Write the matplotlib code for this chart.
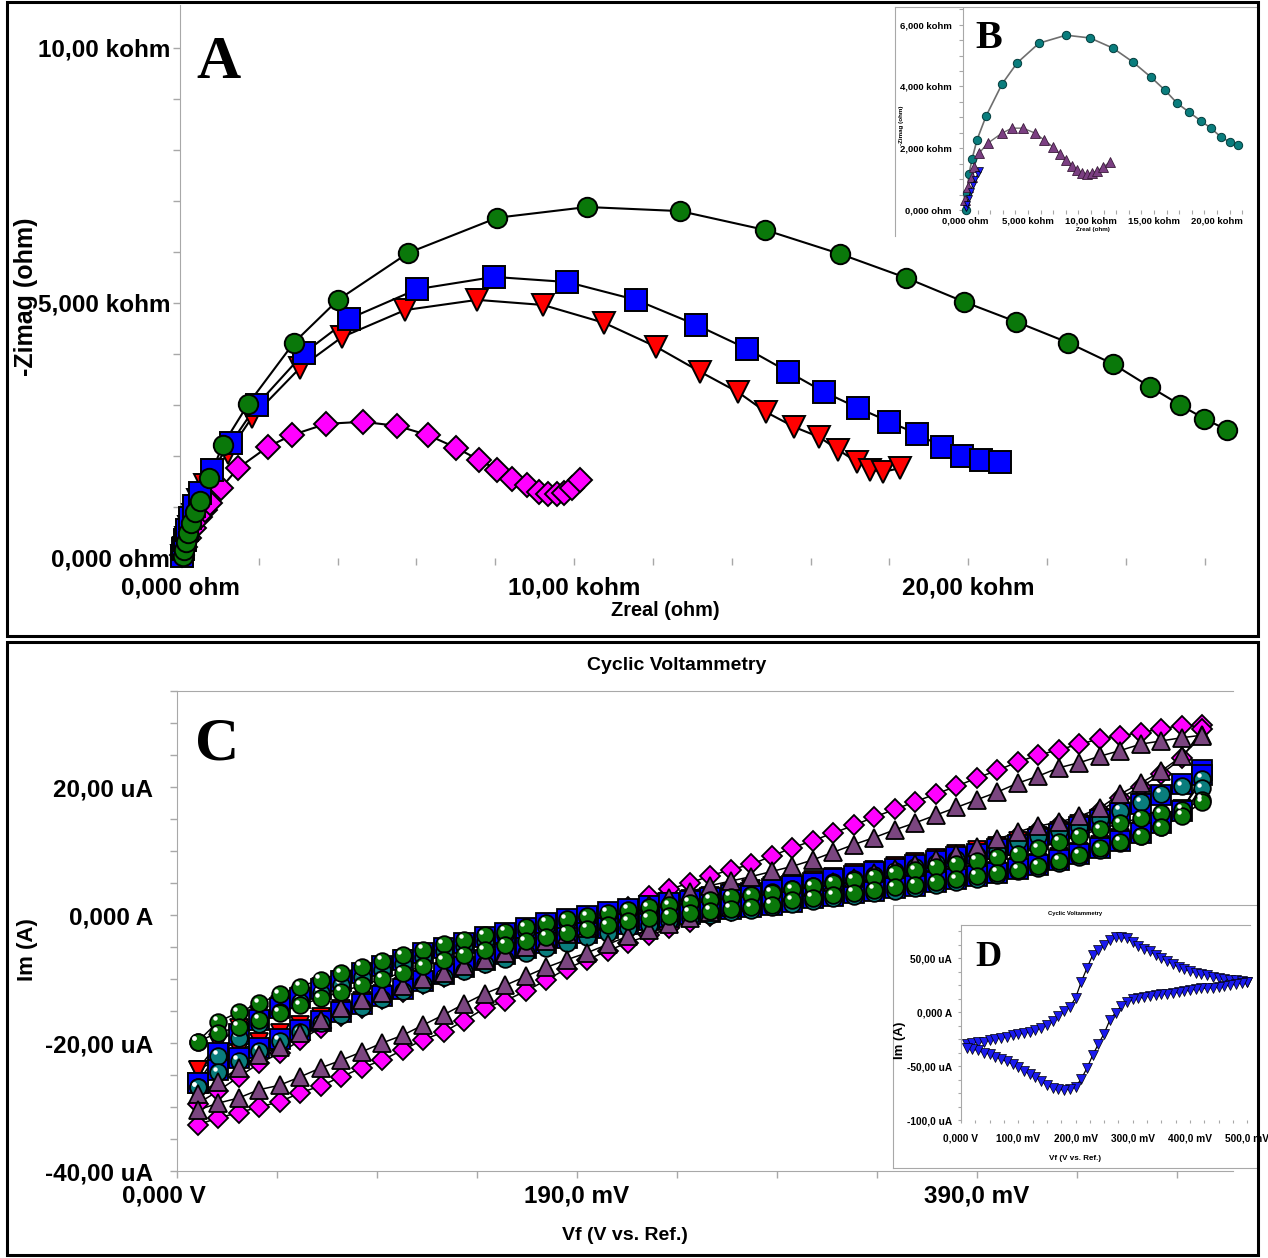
import numpy as np
import matplotlib
matplotlib.use("Agg")
import matplotlib.pyplot as plt
from matplotlib.ticker import MultipleLocator
from matplotlib.patches import Rectangle
from matplotlib.transforms import offset_copy, ScaledTranslation

SANS = ['Liberation Sans', 'DejaVu Sans']
SERIF = ['Liberation Serif', 'DejaVu Serif']
GRAY = '#a8a8a8'

# ---------------- panel A : Nyquist (kohm) ----------------
a_green_x = [0.08, 0.10, 0.15, 0.20, 0.28, 0.38, 0.51, 0.74, 1.09, 1.73, 2.89, 4.01, 5.79, 8.05,
             10.33, 12.69, 14.85, 16.75, 18.43, 19.90, 21.22, 22.54, 23.68, 24.62, 25.38, 25.99, 26.57]
a_green_y = [0.04, 0.16, 0.31, 0.49, 0.69, 0.90, 1.12, 1.57, 2.22, 3.02, 4.22, 5.06, 5.98, 6.67,
             6.88, 6.80, 6.43, 5.96, 5.49, 5.02, 4.63, 4.22, 3.80, 3.35, 3.00, 2.73, 2.51]
a_blue_x = [0.05, 0.08, 0.13, 0.18, 0.25, 0.36, 0.51, 0.81, 1.29, 1.95, 3.15, 4.29, 6.02, 7.97,
            9.82, 11.57, 13.10, 14.39, 15.43, 16.35, 17.21, 18.00, 18.71, 19.34, 19.85, 20.33, 20.81]
a_blue_y = [0.04, 0.18, 0.35, 0.55, 0.78, 1.02, 1.27, 1.73, 2.25, 3.00, 4.02, 4.69, 5.27, 5.51,
            5.41, 5.06, 4.57, 4.10, 3.65, 3.25, 2.94, 2.67, 2.43, 2.18, 2.00, 1.92, 1.88]
a_red_x = [0.05, 0.10, 0.15, 0.23, 0.33, 0.46, 0.63, 1.22, 1.83, 3.05, 4.11, 5.71, 7.54, 9.21,
           10.76, 12.08, 13.20, 14.16, 14.87, 15.58, 16.22, 16.70, 17.18, 17.51, 17.84, 18.27]
a_red_y = [0.04, 0.20, 0.39, 0.61, 0.84, 1.14, 1.43, 2.06, 2.76, 3.73, 4.33, 4.86, 5.06, 4.96,
           4.61, 4.14, 3.65, 3.25, 2.86, 2.57, 2.37, 2.12, 1.88, 1.73, 1.69, 1.76]
a_mag_x = [0.05, 0.13, 0.23, 0.36, 0.51, 0.63, 0.76, 1.04, 1.47, 2.23, 2.84, 3.71, 4.64, 5.51,
           6.29, 7.01, 7.59, 8.05, 8.43, 8.81, 9.11, 9.34, 9.57, 9.75, 9.95, 10.15]
a_mag_y = [0.06, 0.22, 0.39, 0.59, 0.80, 0.94, 1.08, 1.37, 1.76, 2.18, 2.41, 2.63, 2.67, 2.59,
           2.41, 2.16, 1.92, 1.73, 1.55, 1.43, 1.29, 1.25, 1.25, 1.27, 1.37, 1.53]

# ---------------- inset B ----------------
b_teal_x = [0.08, 0.16, 0.32, 0.56, 0.95, 1.67, 2.94, 4.13, 5.87, 8.02, 9.92, 11.75, 13.33, 14.76,
            15.87, 16.83, 17.78, 18.73, 19.52, 20.32, 21.03, 21.67]
b_teal_y = [0.0, 0.55, 1.17, 1.65, 2.27, 3.04, 4.08, 4.76, 5.40, 5.66, 5.57, 5.24, 4.79, 4.30,
            3.88, 3.46, 3.17, 2.88, 2.65, 2.36, 2.20, 2.10]
b_purp_x = [0.00, 0.24, 0.56, 0.71, 1.11, 1.83, 2.94, 3.73, 4.60, 5.56, 6.27, 6.98, 7.54, 8.02,
            8.49, 8.89, 9.29, 9.68, 10.08, 10.48, 10.95, 11.51]
b_purp_y = [0.32, 0.74, 1.07, 1.39, 1.84, 2.17, 2.49, 2.65, 2.65, 2.49, 2.27, 2.04, 1.81, 1.62,
            1.42, 1.29, 1.20, 1.17, 1.20, 1.26, 1.39, 1.55]
b_blue_x = [0.05, 0.15, 0.30, 0.45, 0.60, 0.80, 1.00, 1.20]
b_blue_y = [0.05, 0.20, 0.40, 0.60, 0.80, 1.00, 1.15, 1.30]

# ---------------- panel C : CV (mV, uA) ----------------
cv_e = [10, 20, 30, 40, 50, 60, 70, 80, 90, 100, 110, 120, 130, 140, 150, 160, 170, 180, 190, 200,
        210, 220, 230, 240, 250, 260, 270, 280, 290, 300, 310, 320, 330, 340, 350, 360, 370, 380, 390, 400,
        410, 420, 430, 440, 450, 460, 470, 480, 490, 500]

green_up = [-19.8, -16.7, -15.2, -13.8, -12.4, -11.2, -10.1, -9.1, -8.1, -7.2,
            -6.3, -5.4, -4.6, -3.9, -3.2, -2.6, -1.9, -1.2, -0.7, -0.2,
            0.3, 0.8, 1.2, 1.5, 1.9, 2.4, 2.8, 3.1, 3.5, 4.0,
            4.5, 5.0, 5.5, 6.0, 6.5, 7.0, 7.5, 8.0, 8.5, 9.0,
            9.6, 10.4, 11.4, 12.4, 13.4, 14.3, 15.2, 15.9, 16.4, 18.0]
green_lo = [-19.8, -18.4, -17.5, -16.4, -15.3, -14.1, -13.0, -12.0, -11.0, -10.0,
            -9.0, -8.0, -7.1, -6.2, -5.5, -4.7, -4.1, -3.4, -2.8, -2.2,
            -1.6, -1.0, -0.5, -0.1, 0.3, 0.7, 1.0, 1.2, 1.6, 2.3,
            2.7, 3.1, 3.5, 3.9, 4.3, 4.7, 5.1, 5.6, 6.1, 6.6,
            7.1, 7.7, 8.5, 9.4, 10.4, 11.4, 12.4, 13.7, 15.5, 17.6]
teal_up = [-26.9, -22.0, -19.2, -17.0, -15.2, -13.6, -12.2, -10.9, -9.7, -8.6,
           -7.6, -6.6, -5.7, -4.8, -4.0, -3.2, -2.5, -1.8, -1.1, -0.5,
           0.0, 0.5, 1.0, 1.4, 1.8, 2.3, 2.7, 3.1, 3.6, 4.1,
           4.6, 5.1, 5.7, 6.3, 6.9, 7.5, 8.1, 8.7, 9.3, 10.0,
           11.6, 12.4, 13.1, 13.8, 15.0, 16.3, 17.6, 18.9, 20.1, 21.3]
teal_lo = [-26.9, -24.6, -22.8, -21.2, -19.7, -18.3, -16.9, -15.6, -14.3, -13.1,
           -11.9, -10.8, -9.7, -8.7, -7.7, -6.8, -5.9, -5.1, -4.3, -3.5,
           -2.8, -2.1, -1.5, -0.9, -0.4, 0.0, 0.4, 0.8, 1.2, 1.7,
           2.2, 2.6, 3.0, 3.4, 3.8, 4.2, 4.7, 5.2, 5.7, 6.2,
           6.8, 7.4, 8.2, 9.1, 10.1, 11.2, 12.4, 13.8, 15.8, 19.8]
blue_up = [-26.3, -21.5, -18.6, -16.4, -14.6, -13.0, -11.6, -10.3, -9.1, -8.0,
           -7.0, -6.0, -5.1, -4.3, -3.5, -2.8, -2.0, -1.3, -0.7, -0.1,
           0.4, 0.9, 1.4, 1.8, 2.2, 2.7, 3.1, 3.5, 4.0, 4.5,
           5.0, 5.6, 6.1, 6.7, 7.2, 7.8, 8.4, 9.0, 9.6, 10.3,
           11.0, 11.8, 12.7, 13.7, 14.8, 16.0, 17.3, 18.7, 20.4, 22.6]
blue_lo = [-26.3, -24.2, -22.4, -20.8, -19.3, -17.9, -16.5, -15.2, -13.9, -12.7,
           -11.5, -10.3, -9.2, -8.1, -7.1, -6.1, -5.2, -4.4, -3.6, -2.8,
           -2.1, -1.4, -0.8, -0.3, 0.1, 0.5, 0.9, 1.2, 1.6, 2.1,
           2.6, 3.0, 3.4, 3.8, 4.2, 4.6, 5.1, 5.6, 6.1, 6.6,
           7.2, 7.8, 8.6, 9.5, 10.5, 11.6, 12.8, 14.3, 16.3, 21.8]
red_up = [-24.2, -20.0, -17.6, -15.7, -14.1, -12.6, -11.3, -10.1, -9.0, -7.9,
          -6.9, -6.0, -5.1, -4.3, -3.5, -2.8, -2.0, -1.3, -0.7, -0.1,
          0.5, 1.0, 1.5, 2.0, 2.5, 3.0, 3.5, 4.0, 4.5, 5.0,
          5.5, 6.0, 6.5, 7.1, 7.7, 8.3, 8.9, 9.5, 10.1, 10.8,
          11.5, 12.3, 13.2, 14.2, 15.2, 16.3, 17.5, 18.8, 20.3, 22.0]
red_lo = [-24.2, -22.6, -21.2, -19.8, -18.5, -17.2, -15.9, -14.7, -13.5, -12.3,
          -11.2, -10.1, -9.1, -8.1, -7.1, -6.2, -5.3, -4.5, -3.7, -2.9,
          -2.2, -1.5, -0.9, -0.4, 0.1, 0.5, 0.9, 1.3, 1.7, 2.2,
          2.7, 3.1, 3.5, 3.9, 4.3, 4.8, 5.3, 5.8, 6.3, 6.9,
          7.5, 8.2, 9.0, 9.9, 10.9, 12.0, 13.2, 14.6, 16.5, 21.0]
purple_up = [-28.0, -26.1, -23.9, -21.9, -20.6, -18.4, -16.4, -14.5, -13.3, -12.2,
             -11.1, -10.0, -9.0, -8.0, -7.0, -6.0, -5.0, -4.0, -3.0, -2.0,
             -0.9, 0.3, 1.5, 2.6, 3.6, 4.6, 5.3, 6.0, 6.8, 7.6,
             8.6, 9.8, 11.0, 12.1, 13.3, 14.4, 15.6, 16.8, 18.0, 19.2,
             20.6, 21.7, 23.0, 23.8, 24.8, 25.7, 26.7, 27.2, 27.7, 28.1]
purple_lo = [-30.5, -29.4, -28.6, -27.3, -26.6, -25.3, -23.9, -22.7, -21.4, -20.0,
             -18.8, -17.2, -15.6, -13.9, -12.3, -11.0, -9.6, -8.2, -7.0, -5.9,
             -4.6, -3.3, -2.4, -1.4, -0.4, 0.4, 1.2, 2.0, 2.8, 3.6,
             4.4, 5.1, 5.8, 6.5, 7.2, 7.9, 8.7, 9.6, 10.6, 11.8,
             13.0, 13.9, 14.5, 15.4, 16.7, 18.9, 20.6, 22.5, 24.8, 28.0]
magenta_up = [-29.5, -27.5, -25.3, -23.2, -21.6, -19.6, -17.6, -15.8, -14.5, -13.2,
              -12.0, -10.8, -9.7, -8.6, -7.5, -6.4, -5.3, -4.2, -3.0, -1.8,
              -0.4, 1.2, 2.9, 4.0, 5.0, 6.1, 7.1, 7.9, 9.2, 10.5,
              11.6, 12.8, 14.0, 15.3, 16.5, 17.7, 18.9, 20.1, 21.4, 22.6,
              23.9, 25.0, 25.8, 26.7, 27.5, 28.0, 28.5, 29.1, 29.6, 29.7]
magenta_lo = [-32.8, -31.7, -30.9, -30.0, -29.2, -27.8, -26.7, -25.3, -23.9, -22.7,
              -21.1, -19.5, -18.3, -16.5, -14.6, -13.4, -11.9, -10.2, -8.4, -7.0,
              -5.6, -4.3, -3.2, -2.1, -1.1, -0.2, 0.6, 1.4, 2.2, 3.0,
              3.8, 4.5, 5.2, 5.9, 6.6, 7.3, 8.1, 9.0, 10.0, 11.2,
              12.4, 13.3, 14.0, 14.9, 16.2, 18.3, 20.0, 22.0, 24.5, 29.0]

# ---------------- inset D : CV (mV, uA) ----------------
d_fwd = [-29.6, -28.7, -27.8, -27.3, -25.9, -25.0, -23.6, -22.7, -21.3, -20.4,
         -19.4, -18.5, -16.7, -14.8, -12.0, -8.3, -3.7, 0.9, 4.6, 13.0,
         27.8, 40.7, 52.8, 57.4, 62.0, 66.7, 69.4, 69.4, 68.1, 64.8,
         61.1, 58.8, 56.5, 52.8, 50.0, 47.2, 44.4, 41.7, 39.8, 38.0,
         36.6, 35.2, 34.3, 32.4, 31.5, 30.6, 29.6, 29.2, 28.7, 27.8]
d_rev = [-32.9, -34.3, -35.6, -37.5, -38.9, -41.2, -43.5, -45.8, -48.1, -50.9,
         -54.2, -57.4, -60.2, -63.9, -67.6, -69.9, -71.3, -72.2, -71.3, -69.4,
         -62.0, -52.0, -40.0, -29.6, -19.9, -7.4, -0.5, 5.6, 9.3, 12.0,
         13.0, 13.9, 15.3, 15.7, 16.7, 17.1, 17.6, 18.5, 19.4, 20.4,
         21.3, 21.8, 22.2, 22.7, 23.6, 24.1, 25.0, 25.9, 26.9, 27.8]

W, H = 1268, 1258
fig = plt.figure(figsize=(W / 100, H / 100), dpi=100)


def box(x0, y0, x1, y1):
    return [x0 / W, 1 - y1 / H, (x1 - x0) / W, (y1 - y0) / H]


def ftext(x, y, s, **kw):
    fig.text(x / W, 1 - y / H, s, ha='center', va='center', zorder=10, **kw)


def gray_axes(ax, sides):
    for k, sp in ax.spines.items():
        sp.set_visible(k in sides)
        sp.set_color(GRAY)
    ax.tick_params(which='both', colors=GRAY, labelcolor='black', direction='out')


# ================= panel A =================
axA = fig.add_axes(box(180, 5, 1252, 558), zorder=1)
axA.set_xlim(0, 27.2)
axA.set_ylim(0, 10.84)
gray_axes(axA, ['left'])
tick_kw = dict(fontfamily=SANS, fontweight='bold', fontsize=17.5)
axA.set_yticks([0, 5, 10], ['0,000 ohm', '5,000 kohm', '10,00 kohm'], **tick_kw)
axA.set_xticks([0, 10, 20], ['0,000 ohm', '10,00 kohm', '20,00 kohm'], **tick_kw)
axA.yaxis.set_minor_locator(MultipleLocator(1))
axA.xaxis.set_minor_locator(MultipleLocator(2))
axA.tick_params(which='both', length=5, width=1)
axA.tick_params(axis='y', pad=2)
axA.tick_params(axis='x', pad=8)

nyq = [(a_mag_x, a_mag_y, 'D', 12, '#ff00ff'),
       (a_red_x, a_red_y, 'v', 16, '#ff0000'),
       (a_blue_x, a_blue_y, 's', 16, '#0000ff'),
       (a_green_x, a_green_y, 'o', 14, '#0a780a')]
for x, y, m, ms, c in nyq:
    axA.plot(x, y, '-', color='black', lw=1.5, zorder=2, clip_on=False)
for i, (x, y, m, ms, c) in enumerate(nyq):
    axA.plot(x, y, ls='none', marker=m, ms=ms, mfc=c, mec='black', mew=1.4,
             zorder=3 + i, clip_on=False)

ftext(218, 63, 'A', family=SERIF, weight='bold', fontsize=44)
ftext(26, 297, '-Zimag (ohm)', family=SANS, weight='bold', fontsize=18, rotation=90)
ftext(665, 610, 'Zreal (ohm)', family=SANS, weight='bold', fontsize=14.3)

# ---- inset B ----
bgB = fig.add_axes(box(895, 7, 1257, 236), zorder=5)
gray_axes(bgB, ['left', 'top'])
bgB.set_xticks([])
bgB.set_yticks([])

axB = fig.add_axes(box(963, 8, 1250, 210), zorder=6)
axB.patch.set_alpha(0)
axB.set_xlim(-0.16, 22.62)
axB.set_ylim(0, 6.54)
gray_axes(axB, ['left'])
small_kw = dict(fontfamily=SANS, fontweight='bold', fontsize=6.8)
axB.set_yticks([0, 2, 4, 6], ['0,000 ohm', '2,000 kohm', '4,000 kohm', '6,000 kohm'], **small_kw)
axB.set_xticks([0, 5, 10, 15, 20], ['0,000 ohm', '5,000 kohm', '10,00 kohm', '15,00 kohm',
                                    '20,00 kohm'], **small_kw)
axB.xaxis.set_minor_locator(MultipleLocator(1))
axB.yaxis.set_minor_locator(MultipleLocator(0.5))
axB.tick_params(which='both', length=3, width=0.8)
axB.tick_params(axis='y', pad=5)
axB.tick_params(axis='x', pad=2)
axB.plot(b_teal_x, b_teal_y, '-', color='#6e6e6e', lw=1.2, zorder=2, clip_on=False)
axB.plot(b_purp_x, b_purp_y, '-', color='#6e6e6e', lw=1.0, zorder=2, clip_on=False)
axB.plot(b_teal_x, b_teal_y, ls='none', marker='o', ms=6, mfc='#0a7d7d', mec='#023c3c',
         mew=0.7, zorder=3, clip_on=False)
axB.plot(b_purp_x, b_purp_y, ls='none', marker='^', ms=6.5, mfc='#7b3f82', mec='#3a1a3a',
         mew=0.6, zorder=4, clip_on=False)
axB.plot(b_blue_x, b_blue_y, '-', color='black', lw=0.8, zorder=4, clip_on=False)
axB.plot(b_blue_x, b_blue_y, ls='none', marker='v', ms=5, mfc='#1a1aff', mec='black',
         mew=0.5, zorder=5, clip_on=False)
ftext(989, 38, 'B', family=SERIF, weight='bold', fontsize=29)
ftext(901, 125, '-Zimag (ohm)', family=SANS, weight='bold', fontsize=4.5, rotation=90)
ftext(1093, 230, 'Zreal (ohm)', family=SANS, weight='bold', fontsize=4.5)

# ================= panel C =================
axC = fig.add_axes(box(177, 691, 1233, 1171), zorder=1)
axC.set_xlim(0, 515)
axC.set_ylim(-40, 35)
gray_axes(axC, ['left', 'top', 'bottom'])
axC.set_yticks([-40, -20, 0, 20], ['-40,00 uA', '-20,00 uA', '0,000 A', '20,00 uA'], **tick_kw)
axC.set_xticks([0, 195, 390], ['0,000 V', '190,0 mV', '390,0 mV'], **tick_kw)
axC.yaxis.set_minor_locator(MultipleLocator(5))
axC.xaxis.set_minor_locator(MultipleLocator(48.75))
axC.tick_params(which='both', length=5, width=1)
axC.tick_params(axis='y', pad=12)
axC.tick_params(axis='x', pad=5)
lab0 = axC.get_xticklabels()[0]
lab0.set_transform(lab0.get_transform() + ScaledTranslation(-0.13, 0, fig.dpi_scale_trans))

e_loop = cv_e + cv_e[::-1]
cv = [(magenta_up, magenta_lo, 'D', 10.5, '#ff00ff'),
      (red_up, red_lo, 'v', 13, '#ff0000'),
      (blue_up, blue_lo, 's', 14, '#0000ff'),
      (teal_up, teal_lo, 'o', 12, '#0a7d7d'),
      (purple_up, purple_lo, '^', 13, '#7b4680'),
      (green_up, green_lo, 'o', 12, '#0a780a')]
for up, lo, m, ms, c in cv:
    axC.plot(e_loop, up + lo[::-1], '-', color='black', lw=1.1, zorder=2)
hl = offset_copy(axC.transData, fig=fig, x=-2.3, y=2.6, units='points')
for i, (up, lo, m, ms, c) in enumerate(cv):
    axC.plot(e_loop, up + lo[::-1], ls='none', marker=m, ms=ms, mfc=c, mec='black',
             mew=1.3, zorder=3 + i, clip_on=False)
    if m == 'o':
        axC.plot(e_loop, up + lo[::-1], ls='none', marker='o', ms=3.2, mfc='white',
                 mec='none', zorder=3.5 + i, transform=hl, clip_on=False)

ftext(677, 666, 'Cyclic Voltammetry', family=SANS, weight='bold', fontsize=14)
ftext(217, 745, 'C', family=SERIF, weight='bold', fontsize=44)
ftext(28, 950, 'Im (A)', family=SANS, weight='bold', fontsize=16, rotation=90)
ftext(625, 1235, 'Vf (V vs. Ref.)', family=SANS, weight='bold', fontsize=14)

# ---- inset D ----
bgD = fig.add_axes(box(893, 905, 1257, 1168), zorder=5)
gray_axes(bgD, ['left', 'top', 'bottom'])
bgD.set_xticks([])
bgD.set_yticks([])

axD = fig.add_axes(box(961, 925, 1250, 1120), zorder=6)
axD.patch.set_alpha(0)
axD.set_xlim(0, 504.8)
axD.set_ylim(-100, 80.6)
gray_axes(axD, ['left', 'top'])
d_kw = dict(fontfamily=SANS, fontweight='bold', fontsize=7.3)
axD.set_yticks([-100, -50, 0, 50], ['-100,0 uA', '-50,00 uA', '0,000 A', '50,00 uA'], **d_kw)
axD.set_xticks([0, 100, 200, 300, 400, 500], ['0,000 V', '100,0 mV', '200,0 mV', '300,0 mV',
                                              '400,0 mV', '500,0 mV'], **d_kw)
axD.xaxis.set_minor_locator(MultipleLocator(25))
axD.yaxis.set_minor_locator(MultipleLocator(12.5))
axD.tick_params(which='both', length=2.5, width=0.8)
axD.tick_params(axis='y', pad=4)
axD.tick_params(axis='x', pad=7)
axD.plot(cv_e + cv_e[::-1], d_fwd + d_rev[::-1], '-', color='black', lw=0.9, zorder=2,
         clip_on=False)
axD.plot(cv_e + cv_e[::-1], d_fwd + d_rev[::-1], ls='none', marker='v', ms=6.5,
         mfc='#1a1aee', mec='black', mew=0.5, zorder=3, clip_on=False)
ftext(1075, 913, 'Cyclic Voltammetry', family=SANS, weight='bold', fontsize=4.2)
ftext(988, 958, 'D', family=SERIF, weight='bold', fontsize=26)
ftext(900, 1040, 'Im (A)', family=SANS, weight='bold', fontsize=9.5, rotation=90)
ftext(1075, 1158, 'Vf (V vs. Ref.)', family=SANS, weight='bold', fontsize=5.8)

# ---- panel frames ----
for y0, y1 in [(2, 636), (642, 1255)]:
    fig.add_artist(Rectangle((7 / W, 1 - y1 / H), (1258 - 7) / W, (y1 - y0) / H,
                             transform=fig.transFigure, fill=False, ec='black', lw=2.2,
                             zorder=20))

fig.savefig('out.png', dpi=100, facecolor='white')
